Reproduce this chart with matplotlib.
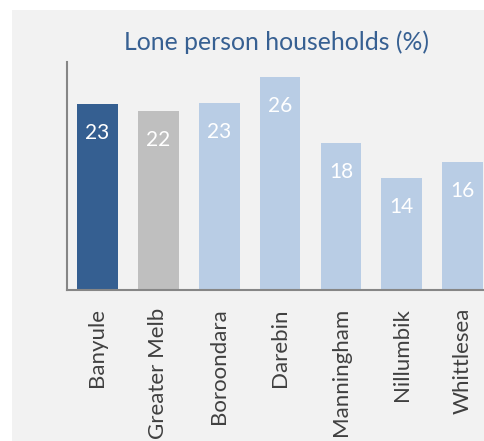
import matplotlib
matplotlib.use("Agg")
import matplotlib.pyplot as plt
from matplotlib.patches import Rectangle

categories = ["Banyule", "Greater Melb", "Boroondara", "Darebin", "Manningham", "Nillumbik", "Whittlesea"]
values = [22.85, 22.0, 23.0, 26.2, 18.05, 13.75, 15.7]
labels = ["23", "22", "23", "26", "18", "14", "16"]
colors = ["#355F91", "#BFBFBF", "#B9CDE5", "#B9CDE5", "#B9CDE5", "#B9CDE5", "#B9CDE5"]
title = "Lone person households (%)"

FONT = ["Lato", "DejaVu Sans"]
plt.rcParams['font.family'] = FONT

W, H = 484, 441
fig = plt.figure(figsize=(W / 100, H / 100), dpi=100, facecolor="white")
fig.patches.append(Rectangle((12 / W, 0), 1 - 12 / W, 1 - 10 / H, transform=fig.transFigure,
                             facecolor="#F2F2F2", edgecolor="none", zorder=-10))

ax = fig.add_axes([67 / W, 1 - 290 / H, 1 - 67 / W, (290 - 62) / H])
ax.set_facecolor("none")
x = list(range(len(categories)))
ax.bar(x, values, width=0.67, color=colors, zorder=2)
ax.set_xlim(-0.5, 6.35)
ax.set_ylim(0, 28)

for xi, v, lab in zip(x, values, labels):
    ax.annotate(lab, (xi, v), xytext=(0, -21), textcoords="offset points",
                ha="center", va="center", color="white", fontsize=15, zorder=3)

ax.set_xticks(x)
ax.set_xticklabels(categories, rotation=90, fontsize=16, color="#404040")
ax.tick_params(axis="x", length=0, pad=13)
ax.set_yticks([])
for s in ["top", "right"]:
    ax.spines[s].set_visible(False)
for s in ["left", "bottom"]:
    ax.spines[s].set_color("#868686")
    ax.spines[s].set_linewidth(1.5)

fig.text(276 / W, 1 - 42 / H, title, ha="center", va="center", fontsize=17.8, color="#376092")

fig.savefig("out.png", dpi=100, facecolor="white")
